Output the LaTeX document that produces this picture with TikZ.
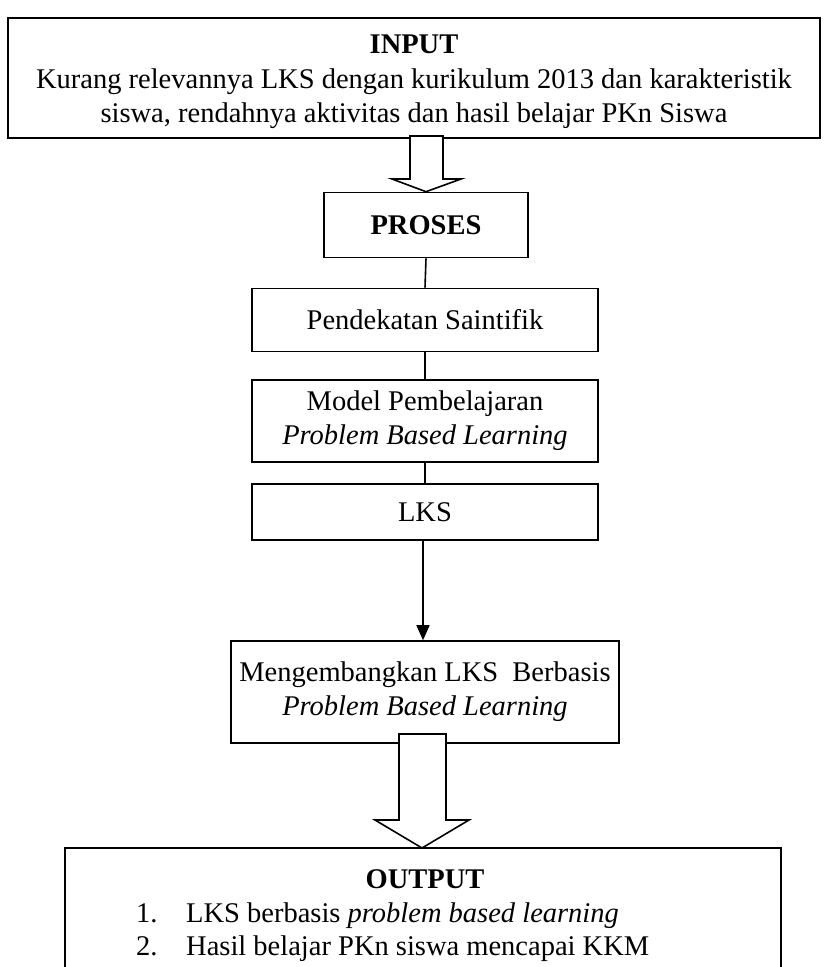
\documentclass[tikz,border=0pt]{standalone}
\usepackage{fontspec}
\setmainfont{Liberation Serif}
\usetikzlibrary{arrows.meta}
\begin{document}
\begin{tikzpicture}[x=1pt,y=-1pt,
  box/.style={draw,line width=1.6pt,inner sep=0pt,align=center,font=\fontsize{28.5}{34}\selectfont},
  conn/.style={line width=1.6pt},
  txt/.style={font=\fontsize{28.5}{34}\selectfont,align=center,inner sep=0pt},
  hollow/.style={draw,line width=1.6pt,fill=white,line join=miter}]
\useasboundingbox (0,0) rectangle (827,967);
% INPUT
\node[box,minimum width=812pt,minimum height=120pt] (input) at (414,78) {};
\node[txt] (inputT) at (414,44) {\textbf{INPUT}};
\node[txt] (inputB) at (414,99) {Kurang relevannya LKS dengan kurikulum 2013 dan karakteristik\\siswa, rendahnya aktivitas dan hasil belajar PKn Siswa};
% PROSES
\node[box,minimum width=204pt,minimum height=65pt] (proses) at (426,225) {\textbf{PROSES}};
% Pendekatan
\node[box,minimum width=346pt,minimum height=63pt] (pend) at (425,320) {Pendekatan Saintifik};
% Model
\node[box,minimum width=346pt,minimum height=82pt] (model) at (425,421) {Model Pembelajaran\\\textit{Problem Based Learning}};
% LKS
\node[box,minimum width=346pt,minimum height=56pt] (lks) at (425,512) {LKS};
% Mengembangkan
\node[box,minimum width=388pt,minimum height=102pt] (meng) at (425,692) {Mengembangkan LKS\ \ Berbasis\\\textit{Problem Based Learning}};
% hollow arrow 1
\draw[hollow] (410,136) -- (443,136) -- (443,179) -- (461,179) -- (proses.north) -- (392,179) -- (410,179) -- cycle;
% connectors
\draw[conn] (proses.south) -- (pend.north);
\draw[conn] (pend.south) -- (model.north);
\draw[conn] (model.south) -- (lks.north);
\draw[conn,-{Triangle[length=15pt,width=13pt]}] ([xshift=-2pt]lks.south) -- ([xshift=-2pt]meng.north);
% OUTPUT
\coordinate (oL) at (65,848);
\coordinate (oR) at (781,848);
\draw[line width=1.6pt] (65,975) -- (oL) -- (oR) -- (781,975);
% hollow arrow 2
\draw[hollow] (399,734) -- (446,734) -- (446,820) -- (469,820) -- (422,848) -- (375,820) -- (399,820) -- cycle;
\node[txt] (outT) at (425,879) {\textbf{OUTPUT}};
\node[txt,anchor=base west] (o1) at (136,922) {1.};
\node[txt,anchor=base west] (o1t) at (186,922) {LKS berbasis \textit{problem based learning}};
\node[txt,anchor=base west] (o2) at (136,955) {2.};
\node[txt,anchor=base west] (o2t) at (186,955) {Hasil belajar PKn siswa mencapai KKM};
\end{tikzpicture}
\end{document}
